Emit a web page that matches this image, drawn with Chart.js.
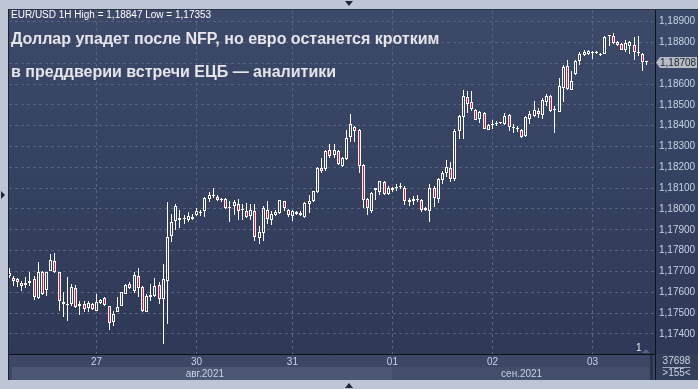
<!DOCTYPE html>
<html>
<head>
<meta charset="utf-8">
<script src="https://cdn.jsdelivr.net/npm/chart.js@4.4.0/dist/chart.umd.min.js"></script>
<style>
    body { margin: 0; background: #bcc6d4; }
    #wrap { position: relative; width: 698px; height: 389px; }
    .txt { position: absolute; left: 11px; white-space: nowrap; font-family: 'Liberation Sans', Arial, sans-serif; }
    #hdr { top: 10px; font-size: 10px; line-height: 10px; color: #ffffff; }
    #t1 { top: 31px; font-size: 16px; line-height: 16px; font-weight: bold; color: #e4e6ea; }
    #t2 { top: 64px; font-size: 16px; line-height: 16px; font-weight: bold; color: #e4e6ea; }
</style>
</head>
<body>
<div id="wrap">
    <canvas id="candleChart" width="698" height="389"></canvas>
    <div class="txt" id="hdr">EUR/USD 1H High = 1,18847 Low = 1,17353</div>
    <div class="txt" id="t1">Доллар упадет после NFP, но евро останется кротким</div>
    <div class="txt" id="t2">в преддверии встречи ЕЦБ — аналитики</div>
</div>
<script>
// EUR/USD 1H, свечи (open / high / low / close)
const opens = [
    1.17677,1.17666,1.17661,1.17645,1.17634,1.17643,1.17661,1.17573,1.17698,1.17610,
    1.17701,1.17752,1.17698,1.17555,1.17538,1.17543,1.17621,1.17533,1.17544,1.17523,
    1.17544,1.17512,1.17549,1.17570,1.17533,1.17456,1.17506,1.17536,1.17592,1.17640,
    1.17605,1.17678,1.17627,1.17506,1.17578,1.17581,1.17634,1.17568,1.17653,1.17868,
    1.17940,1.17945,1.17950,1.17945,1.17961,1.17972,1.17982,1.17991,1.18047,1.18060,
    1.18057,1.18041,1.18047,1.18004,1.18012,1.18025,1.17994,1.17991,1.17964,1.17988,
    1.17860,1.17884,1.17996,1.17945,1.17972,1.17980,1.18037,1.17994,1.17967,1.17986,
    1.17982,1.17962,1.18025,1.18039,1.18081,1.18197,1.18191,1.18283,1.18259,1.18279,
    1.18204,1.18240,1.18344,1.18395,1.18379,1.18212,1.18049,1.17991,1.18089,1.18081,
    1.18129,1.18071,1.18100,1.18100,1.18104,1.18100,1.18033,1.18036,1.18045,1.18044,
    1.17993,1.17988,1.18100,1.18046,1.18139,1.18174,1.18196,1.18142,1.18374,1.18442,
    1.18540,1.18513,1.18477,1.18434,1.18461,1.18380,1.18403,1.18409,1.18413,1.18406,
    1.18450,1.18387,1.18384,1.18378,1.18350,1.18434,1.18445,1.18469,1.18452,1.18513,
    1.18541,1.18476,1.18466,1.18581,1.18688,1.18573,1.18650,1.18709,1.18741,1.18746,
    1.18749,1.18751,1.18744,1.18746,1.18831,1.18832,1.18803,1.18794,1.18765,1.18781,
    1.18787,1.18753,1.18746,1.18707
];
const highs = [
    1.17718,1.17680,1.17669,1.17653,1.17674,1.17696,1.17677,1.17745,1.17701,1.17698,
    1.17785,1.17789,1.17698,1.17602,1.17674,1.17637,1.17635,1.17557,1.17557,1.17557,
    1.17546,1.17589,1.17565,1.17578,1.17536,1.17509,1.17576,1.17602,1.17637,1.17650,
    1.17698,1.17717,1.17632,1.17589,1.17637,1.17666,1.17648,1.17737,1.18031,1.17977,
    1.18025,1.17996,1.17969,1.17985,1.17975,1.18004,1.17996,1.18057,1.18081,1.18100,
    1.18068,1.18052,1.18052,1.18036,1.18041,1.18047,1.18023,1.18028,1.18022,1.18025,
    1.17916,1.18012,1.18039,1.17988,1.17994,1.18045,1.18039,1.18002,1.17994,1.17990,
    1.17991,1.18033,1.18068,1.18087,1.18200,1.18247,1.18283,1.18311,1.18311,1.18283,
    1.18251,1.18379,1.18456,1.18400,1.18384,1.18215,1.18052,1.18081,1.18103,1.18135,
    1.18132,1.18108,1.18106,1.18119,1.18124,1.18108,1.18052,1.18060,1.18068,1.18047,
    1.18007,1.18119,1.18108,1.18150,1.18182,1.18235,1.18227,1.18382,1.18453,1.18570,
    1.18568,1.18565,1.18481,1.18473,1.18465,1.18409,1.18429,1.18422,1.18418,1.18461,
    1.18457,1.18406,1.18398,1.18382,1.18445,1.18469,1.18517,1.18485,1.18533,1.18554,
    1.18546,1.18497,1.18629,1.18693,1.18714,1.18661,1.18717,1.18752,1.18762,1.18765,
    1.18760,1.18757,1.18749,1.18832,1.18838,1.18847,1.18806,1.18797,1.18813,1.18806,
    1.18826,1.18829,1.18749,1.18709
];
const lows = [
    1.17666,1.17629,1.17624,1.17608,1.17621,1.17632,1.17562,1.17568,1.17586,1.17584,
    1.17701,1.17693,1.17509,1.17482,1.17461,1.17533,1.17525,1.17490,1.17504,1.17504,
    1.17514,1.17509,1.17541,1.17536,1.17418,1.17437,1.17504,1.17533,1.17589,1.17613,
    1.17597,1.17578,1.17506,1.17503,1.17557,1.17576,1.17541,1.17353,1.17445,1.17841,
    1.17897,1.17908,1.17929,1.17937,1.17948,1.17964,1.17967,1.17961,1.18033,1.18055,
    1.18036,1.18031,1.17999,1.17937,1.17972,1.17945,1.17948,1.17956,1.17948,1.17844,
    1.17831,1.17847,1.17927,1.17924,1.17964,1.17977,1.17991,1.17962,1.17943,1.17970,
    1.17964,1.17956,1.17980,1.18031,1.18076,1.18172,1.18180,1.18243,1.18243,1.18212,
    1.18200,1.18236,1.18323,1.18320,1.18172,1.18004,1.17969,1.17980,1.18044,1.18065,
    1.18065,1.18068,1.18081,1.18084,1.18095,1.18017,1.18012,1.18020,1.18033,1.17985,
    1.17988,1.17937,1.18007,1.18030,1.18118,1.18155,1.18131,1.18134,1.18334,1.18338,
    1.18461,1.18469,1.18426,1.18414,1.18385,1.18377,1.18382,1.18398,1.18406,1.18401,
    1.18374,1.18366,1.18369,1.18340,1.18345,1.18406,1.18442,1.18437,1.18433,1.18493,
    1.18466,1.18366,1.18465,1.18513,1.18573,1.18573,1.18645,1.18690,1.18733,1.18738,
    1.18722,1.18744,1.18736,1.18743,1.18784,1.18792,1.18784,1.18762,1.18752,1.18746,
    1.18717,1.18733,1.18664,1.18693
];
const closes = [
    1.17693,1.17653,1.17650,1.17629,1.17642,1.17656,1.17578,1.17698,1.17592,1.17698,
    1.17757,1.17698,1.17557,1.17543,1.17541,1.17626,1.17530,1.17543,1.17520,1.17549,
    1.17517,1.17554,1.17562,1.17539,1.17453,1.17496,1.17530,1.17602,1.17634,1.17621,
    1.17682,1.17621,1.17508,1.17584,1.17587,1.17632,1.17565,1.17661,1.17865,1.17937,
    1.18012,1.17956,1.17953,1.17967,1.17951,1.17988,1.17985,1.18052,1.18068,1.18063,
    1.18044,1.18042,1.18004,1.18006,1.18031,1.17988,1.17996,1.17961,1.17994,1.17865,
    1.17891,1.18004,1.17951,1.17975,1.17985,1.18042,1.18004,1.17969,1.17991,1.17975,
    1.17972,1.18028,1.18039,1.18084,1.18196,1.18180,1.18279,1.18256,1.18283,1.18215,
    1.18243,1.18339,1.18406,1.18374,1.18204,1.18042,1.18004,1.18077,1.18100,1.18132,
    1.18074,1.18103,1.18092,1.18102,1.18106,1.18036,1.18044,1.18049,1.18047,1.17993,
    1.18004,1.18100,1.18055,1.18142,1.18174,1.18201,1.18142,1.18374,1.18445,1.18544,
    1.18506,1.18481,1.18429,1.18465,1.18386,1.18402,1.18405,1.18411,1.18415,1.18449,
    1.18393,1.18389,1.18386,1.18345,1.18441,1.18457,1.18474,1.18458,1.18522,1.18541,
    1.18469,1.18478,1.18592,1.18682,1.18578,1.18613,1.18712,1.18746,1.18754,1.18760,
    1.18751,1.18753,1.18742,1.18827,1.18833,1.18797,1.18789,1.18765,1.18797,1.18802,
    1.18752,1.18751,1.18706,1.18708
];

// подписи оси времени (номер часового слота -> подпись)
const slotCount = 156;
const dayLabels = ['27', '30', '31', '01', '02', '03'];
const daySlots = [21, 45, 68, 92, 116, 140];
const monthLabels = ['авг.2021', 'сен.2021'];
const monthSlots = [47, 123];

// шкала цены
const priceMin = 1.17303;
const priceMax = 1.18956;
const priceStep = 0.001;

const FONT = "'Liberation Sans', Arial, sans-serif";
const AXIS_TEXT = '#c8d4e6';
const GRID = '#56627f';
const RED = '#e3173e';
const HOLLOW = '#35415f';

const xLabels = Array(slotCount).fill('');
daySlots.forEach((s, i) => { xLabels[s] = dayLabels[i]; });
const mLabels = Array(slotCount).fill('');
monthSlots.forEach((s, i) => { mLabels[s] = monthLabels[i]; });

const wicks = lows.map((l, i) => [l, highs[i]]);
const bodies = opens.map((o, i) => [o, closes[i]]);
const bodyFill = opens.map((o, i) => closes[i] < o ? RED : HOLLOW);
const lastPrice = closes[closes.length - 1];
const fmt = v => v.toFixed(5).replace('.', ',');

// свечи по пиксельной сетке, чтобы контуры были чёткими
const snapPlugin = {
    id: 'snap',
    beforeDatasetsDraw(chart) {
        chart.data.datasets.forEach((ds, i) => {
            chart.getDatasetMeta(i).data.forEach(el => {
                el.x = Math.floor(el.x) + 0.5;
                el.y = Math.round(el.y);
                el.base = Math.round(el.base);
                if (Math.abs(el.y - el.base) < 1) el.y = el.base - 1;
            });
        });
    }
};

// фон, рамка и мелкие элементы терминала
const terminalPlugin = {
    id: 'terminal',
    beforeDraw(chart) {
        const { ctx, chartArea: a, scales } = chart;
        const W = chart.width, H = chart.height;
        const x = scales.x, x2 = scales.x2;
        ctx.save();
        ctx.fillStyle = '#bcc6d4';
        ctx.fillRect(0, 0, W, H);

        const g = ctx.createLinearGradient(0, a.top, 0, a.bottom);
        g.addColorStop(0, '#3d4969');
        g.addColorStop(1, '#2d3956');
        ctx.fillStyle = g;
        ctx.fillRect(a.left, a.top, W - a.left, a.bottom - a.top);

        // строка дат и строка месяцев
        ctx.fillStyle = '#3b4764';
        ctx.fillRect(a.left, x.top, W - a.left, x2.bottom - x.top);
        const sepX = x.getPixelForValue(daySlots[dayLabels.indexOf('01')]);
        ctx.fillStyle = '#4b5773';
        ctx.fillRect(a.left + 3, x2.top, sepX - a.left - 3, x2.bottom - x2.top);
        ctx.fillStyle = '#424e6a';
        ctx.fillRect(sepX, x2.top, a.right - 5 - sepX, x2.bottom - x2.top);
        ctx.fillStyle = '#29334b';
        ctx.fillRect(a.right - 5, x.top + 1, 3, x2.bottom - x.top - 1);
        ctx.fillStyle = '#343f5a';
        ctx.fillRect(a.right, x.top, W - a.right, x2.bottom - x.top);

        // рамка графика
        ctx.fillStyle = '#1a2131';
        ctx.fillRect(a.left - 1, a.top - 1, 1, x2.bottom - a.top + 1);
        ctx.fillStyle = '#2b3449';
        ctx.fillRect(a.left, a.top - 1, W - a.left, 1);
        ctx.fillStyle = '#0d1118';
        ctx.fillRect(a.right, a.bottom, 1, x2.bottom - a.bottom);

        // треугольники на рамке
        ctx.fillStyle = '#1f2636';
        const cx = Math.round(W / 2);
        ctx.beginPath();
        ctx.moveTo(cx - 4, 1); ctx.lineTo(cx + 4, 1); ctx.lineTo(cx, 6); ctx.closePath(); ctx.fill();
        ctx.beginPath();
        ctx.moveTo(cx - 4, H - 1); ctx.lineTo(cx + 4, H - 1); ctx.lineTo(cx, H - 6); ctx.closePath(); ctx.fill();
        const cy = Math.round((a.top + a.bottom) / 2) + 13;
        ctx.beginPath();
        ctx.moveTo(1, cy - 4); ctx.lineTo(1, cy + 4); ctx.lineTo(5, cy); ctx.closePath(); ctx.fill();
        ctx.restore();
    },
    afterDraw(chart) {
        const { ctx, chartArea: a, scales } = chart;
        const W = chart.width;
        const x = scales.x, x2 = scales.x2;
        ctx.save();

        // метка текущей цены
        const py = Math.round(scales.y.getPixelForValue(lastPrice)) + 0.5;
        ctx.fillStyle = '#b6bbc4';
        ctx.beginPath();
        ctx.moveTo(a.right + 1, py);
        ctx.lineTo(a.right + 5, py - 5.5);
        ctx.lineTo(W - 1, py - 5.5);
        ctx.lineTo(W - 1, py + 5.5);
        ctx.lineTo(a.right + 5, py + 5.5);
        ctx.closePath();
        ctx.fill();
        ctx.fillStyle = '#1b2130';
        ctx.font = '10px ' + FONT;
        ctx.textBaseline = 'middle';
        ctx.fillText(fmt(lastPrice), a.right + 5, py + 0.5);

        // номер окна и маркер
        ctx.fillStyle = '#e8ecf2';
        ctx.textBaseline = 'alphabetic';
        ctx.fillText('1', a.right - 19, a.bottom - 3);
        ctx.fillStyle = '#56627f';
        ctx.beginPath();
        ctx.moveTo(a.right - 13, a.bottom - 1); ctx.lineTo(a.right - 5, a.bottom - 1); ctx.lineTo(a.right - 9, a.bottom - 5);
        ctx.closePath(); ctx.fill();

        // счётчик баров справа внизу
        const bx = (a.right + W) / 2;
        ctx.fillStyle = AXIS_TEXT;
        ctx.textAlign = 'center';
        ctx.textBaseline = 'middle';
        ctx.fillText('37698', bx, (x.top + x.bottom) / 2 + 1);
        ctx.fillText('>155<', bx, (x2.top + x2.bottom) / 2);
        ctx.fillStyle = '#9aa6ba';
        ctx.fillRect(bx - 14, x.bottom, 28, 1);
        ctx.restore();
    }
};

const ctx = document.getElementById('candleChart').getContext('2d');
new Chart(ctx, {
    type: 'bar',
    data: {
        labels: xLabels,
        datasets: [
            {
                label: 'body',
                data: bodies,
                backgroundColor: bodyFill,
                borderColor: '#ffffff',
                borderWidth: 1,
                borderSkipped: false,
                barThickness: 3,
                minBarLength: 1,
                inflateAmount: 0,
                grouped: false,
                order: 1
            },
            {
                label: 'wick',
                data: wicks,
                backgroundColor: '#ffffff',
                borderWidth: 0,
                barThickness: 1,
                inflateAmount: 0,
                grouped: false,
                order: 2
            }
        ]
    },
    options: {
        responsive: false,
        animation: false,
        devicePixelRatio: 1,
        layout: { padding: { left: 9, top: 9, right: 0, bottom: 9 } },
        plugins: {
            legend: { display: false },
            tooltip: { enabled: false }
        },
        scales: {
            x: {
                type: 'category',
                position: 'bottom',
                offset: false,
                weight: 0,
                grid: {
                    offset: false,
                    drawTicks: false,
                    color: c => (c.tick && c.tick.label) ? GRID : 'rgba(0,0,0,0)'
                },
                border: { display: true, color: '#0d1118', dash: [3, 3] },
                ticks: {
                    autoSkip: false,
                    maxRotation: 0,
                    padding: 2,
                    color: AXIS_TEXT,
                    font: { size: 10, family: FONT },
                    callback: function (v) { return this.getLabelForValue(v); }
                },
                afterFit: s => { s.height = 13; }
            },
            x2: {
                type: 'category',
                labels: mLabels,
                position: 'bottom',
                offset: false,
                weight: 1,
                grid: { display: false, drawTicks: false },
                border: { display: false },
                ticks: {
                    autoSkip: false,
                    maxRotation: 0,
                    padding: 1,
                    color: AXIS_TEXT,
                    font: { size: 10, family: FONT },
                    callback: function (v) { return this.getLabelForValue(v); }
                },
                afterFit: s => { s.height = 13; }
            },
            y: {
                position: 'right',
                min: priceMin,
                max: priceMax,
                grid: { color: GRID, drawTicks: false },
                border: { display: true, color: '#0d1118', dash: [3, 3] },
                ticks: {
                    stepSize: priceStep,
                    includeBounds: false,
                    padding: 4,
                    color: AXIS_TEXT,
                    font: { size: 10, family: FONT },
                    callback: v => Math.abs(v - lastPrice) < 0.0004 ? '' : fmt(v)
                },
                afterFit: s => { s.width = 43; }
            }
        }
    },
    plugins: [snapPlugin, terminalPlugin]
});
</script>
</body>
</html>
